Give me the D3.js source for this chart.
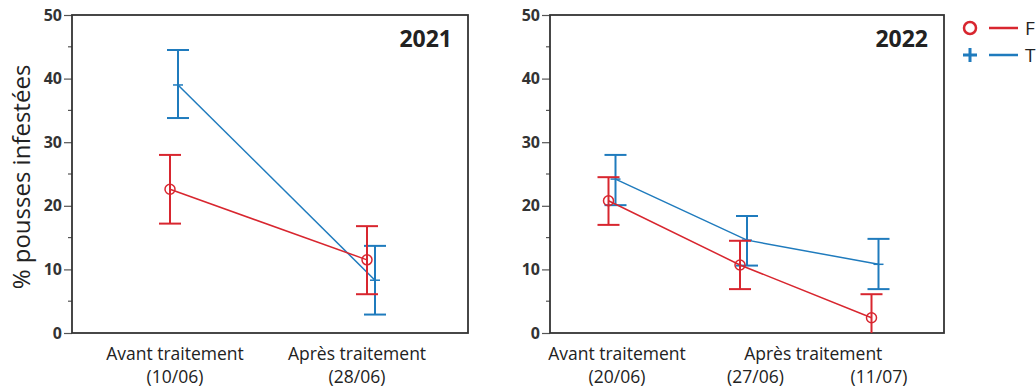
<!DOCTYPE html>
<html>
<head>
<meta charset="utf-8">
<script src="https://cdn.jsdelivr.net/npm/d3@7"></script>
<style>
  body { margin: 0; background: #fff; }
  svg { display: block; }
</style>
</head>
<body>
<div id="chart"></div>
<script>
// Data
const years = ["2021", "2022"];
const seriesNames = ["F", "T"];
const yTicks = [0, 10, 20, 30, 40, 50];

// 2021
const dates2021 = ["(10/06)", "(28/06)"];
const groups2021 = [{ label: "Avant traitement", cats: [0] }, { label: "Après traitement", cats: [1] }];
const f2021 = [22.6, 11.5];
const f2021Lo = [17.2, 6.1];
const f2021Hi = [28.0, 16.8];
const t2021 = [39.0, 8.3];
const t2021Lo = [33.8, 2.9];
const t2021Hi = [44.5, 13.7];

// 2022
const dates2022 = ["(20/06)", "(27/06)", "(11/07)"];
const groups2022 = [{ label: "Avant traitement", cats: [0] }, { label: "Après traitement", cats: [1, 2] }];
const f2022 = [20.8, 10.7, 2.4];
const f2022Lo = [17.0, 6.9, -1.3];
const f2022Hi = [24.5, 14.5, 6.1];
const t2022 = [24.2, 14.6, 10.8];
const t2022Lo = [20.1, 10.6, 6.9];
const t2022Hi = [28.0, 18.4, 14.8];

const RED = "#d8262f";
const BLUE = "#1f7bbd";
const FONT = "'Open Sans', sans-serif";

const width = 1036, height = 390;
const svg = d3.select("#chart").append("svg")
    .attr("width", width)
    .attr("height", height);

const y = d3.scaleLinear().domain([0, 50]).range([333, 15]);

const panels = [
    { year: years[0], x0: 72, x1: 468, inset: [102, 97], dates: dates2021, groups: groups2021,
      series: [
        { name: seriesNames[1], color: BLUE, v: t2021, lo: t2021Lo, hi: t2021Hi, dx: 4 },
        { name: seriesNames[0], color: RED, v: f2021, lo: f2021Lo, hi: f2021Hi, dx: -4 }
      ] },
    { year: years[1], x0: 550, x1: 944, inset: [62, 69], dates: dates2022, groups: groups2022,
      series: [
        { name: seriesNames[1], color: BLUE, v: t2022, lo: t2022Lo, hi: t2022Hi, dx: 3.5 },
        { name: seriesNames[0], color: RED, v: f2022, lo: f2022Lo, hi: f2022Hi, dx: -3.5 }
      ] }
];

panels.forEach((p, pi) => {
    const g = svg.append("g");
    const x = d3.scalePoint()
        .domain(d3.range(p.dates.length))
        .range([p.x0 + p.inset[0], p.x1 - p.inset[1]]);

    const clipId = "clip" + pi;
    svg.append("clipPath").attr("id", clipId)
        .append("rect")
        .attr("x", p.x0).attr("y", y(50))
        .attr("width", p.x1 - p.x0).attr("height", y(0) - y(50));

    // y axis with major and minor ticks
    const yAxis = g.append("g")
        .attr("transform", `translate(${p.x0},0)`)
        .call(d3.axisLeft(y).tickValues(yTicks).tickSize(8).tickPadding(2));
    yAxis.select(".domain").remove();
    yAxis.selectAll("line").attr("stroke", "#555").attr("stroke-width", 1.2);
    yAxis.selectAll("text")
        .style("font-family", FONT)
        .style("font-weight", "700")
        .style("font-size", "16px")
        .style("fill", "#333");

    g.selectAll(".minor")
        .data(d3.range(5, 50, 10))
        .enter().append("line")
        .attr("x1", p.x0 - 4).attr("x2", p.x0)
        .attr("y1", d => y(d)).attr("y2", d => y(d))
        .attr("stroke", "#555").attr("stroke-width", 1.2);

    // frame
    g.append("rect")
        .attr("x", p.x0).attr("y", y(50))
        .attr("width", p.x1 - p.x0).attr("height", y(0) - y(50))
        .attr("fill", "none")
        .attr("stroke", "#333")
        .attr("stroke-width", 1.8);

    // year label
    g.append("text")
        .attr("x", p.x1 - 16).attr("y", 47)
        .attr("text-anchor", "end")
        .style("font-family", FONT)
        .style("font-weight", "700")
        .style("font-size", "23px")
        .style("fill", "#222")
        .text(p.year);

    const plot = g.append("g").attr("clip-path", `url(#${clipId})`);

    p.series.forEach(s => {
        const pts = s.v.map((v, i) => ({ i, v, lo: s.lo[i], hi: s.hi[i], cx: x(i) + s.dx }));

        // connecting line
        plot.append("path")
            .datum(pts)
            .attr("fill", "none")
            .attr("stroke", s.color)
            .attr("stroke-width", 1.5)
            .attr("d", d3.line().x(d => d.cx).y(d => y(d.v)));

        // error bars
        const eb = plot.selectAll(null).data(pts).enter().append("g")
            .attr("stroke", s.color).attr("stroke-width", 2).attr("fill", "none");
        eb.append("line")
            .attr("x1", d => d.cx).attr("x2", d => d.cx)
            .attr("y1", d => y(d.lo)).attr("y2", d => y(d.hi));
        eb.append("line")
            .attr("x1", d => d.cx - 11).attr("x2", d => d.cx + 11)
            .attr("y1", d => y(d.hi)).attr("y2", d => y(d.hi));
        eb.append("line")
            .attr("x1", d => d.cx - 11).attr("x2", d => d.cx + 11)
            .attr("y1", d => y(d.lo)).attr("y2", d => y(d.lo));

        // markers
        if (s.name === "F") {
            eb.append("circle")
                .attr("cx", d => d.cx).attr("cy", d => y(d.v))
                .attr("r", 5).attr("stroke-width", 1.5);
        } else {
            eb.append("line")
                .attr("x1", d => d.cx - 5).attr("x2", d => d.cx + 5)
                .attr("y1", d => y(d.v)).attr("y2", d => y(d.v))
                .attr("stroke-width", 1.5);
        }
    });

    // x labels: group names and dates
    const labelStyle = sel => sel
        .attr("text-anchor", "middle")
        .style("font-family", FONT)
        .style("font-size", "17.5px")
        .style("fill", "#222");

    const labelDx = pi === 0 ? [1, -14] : [5, 12, 4];
    g.selectAll(".date").data(p.dates).enter().append("text")
        .attr("x", (d, i) => x(i) + labelDx[i])
        .attr("y", 383)
        .call(labelStyle)
        .text(d => d);

    g.selectAll(".group").data(p.groups).enter().append("text")
        .attr("x", d => d3.mean(d.cats, c => x(c) + labelDx[c]) + (d.cats.length > 1 ? -4 : 0))
        .attr("y", 360)
        .call(labelStyle)
        .text(d => d.label);
});

// y axis title
svg.append("text")
    .attr("transform", "translate(30,177) rotate(-90)")
    .attr("text-anchor", "middle")
    .style("font-family", FONT)
    .style("font-size", "24px")
    .style("fill", "#222")
    .text("% pousses infestées");

// legend (cut at the right edge, as in the source)
const legend = svg.append("g");
const legendRows = [
    { name: seriesNames[0], color: RED, yy: 28 },
    { name: seriesNames[1], color: BLUE, yy: 55 }
];
legendRows.forEach(r => {
    if (r.name === "F") {
        legend.append("circle")
            .attr("cx", 970).attr("cy", r.yy).attr("r", 6)
            .attr("fill", "none").attr("stroke", r.color).attr("stroke-width", 2.5);
    } else {
        legend.append("path")
            .attr("d", `M963,${r.yy}H977M970,${r.yy - 7}V${r.yy + 7}`)
            .attr("stroke", r.color).attr("stroke-width", 3);
    }
    legend.append("line")
        .attr("x1", 989).attr("x2", 1018)
        .attr("y1", r.yy).attr("y2", r.yy)
        .attr("stroke", r.color).attr("stroke-width", 2.5);
    legend.append("text")
        .attr("x", 1025).attr("y", r.yy + 7)
        .style("font-family", FONT)
        .style("font-size", "19px")
        .style("fill", "#222")
        .text(r.name);
});
</script>
</body>
</html>
